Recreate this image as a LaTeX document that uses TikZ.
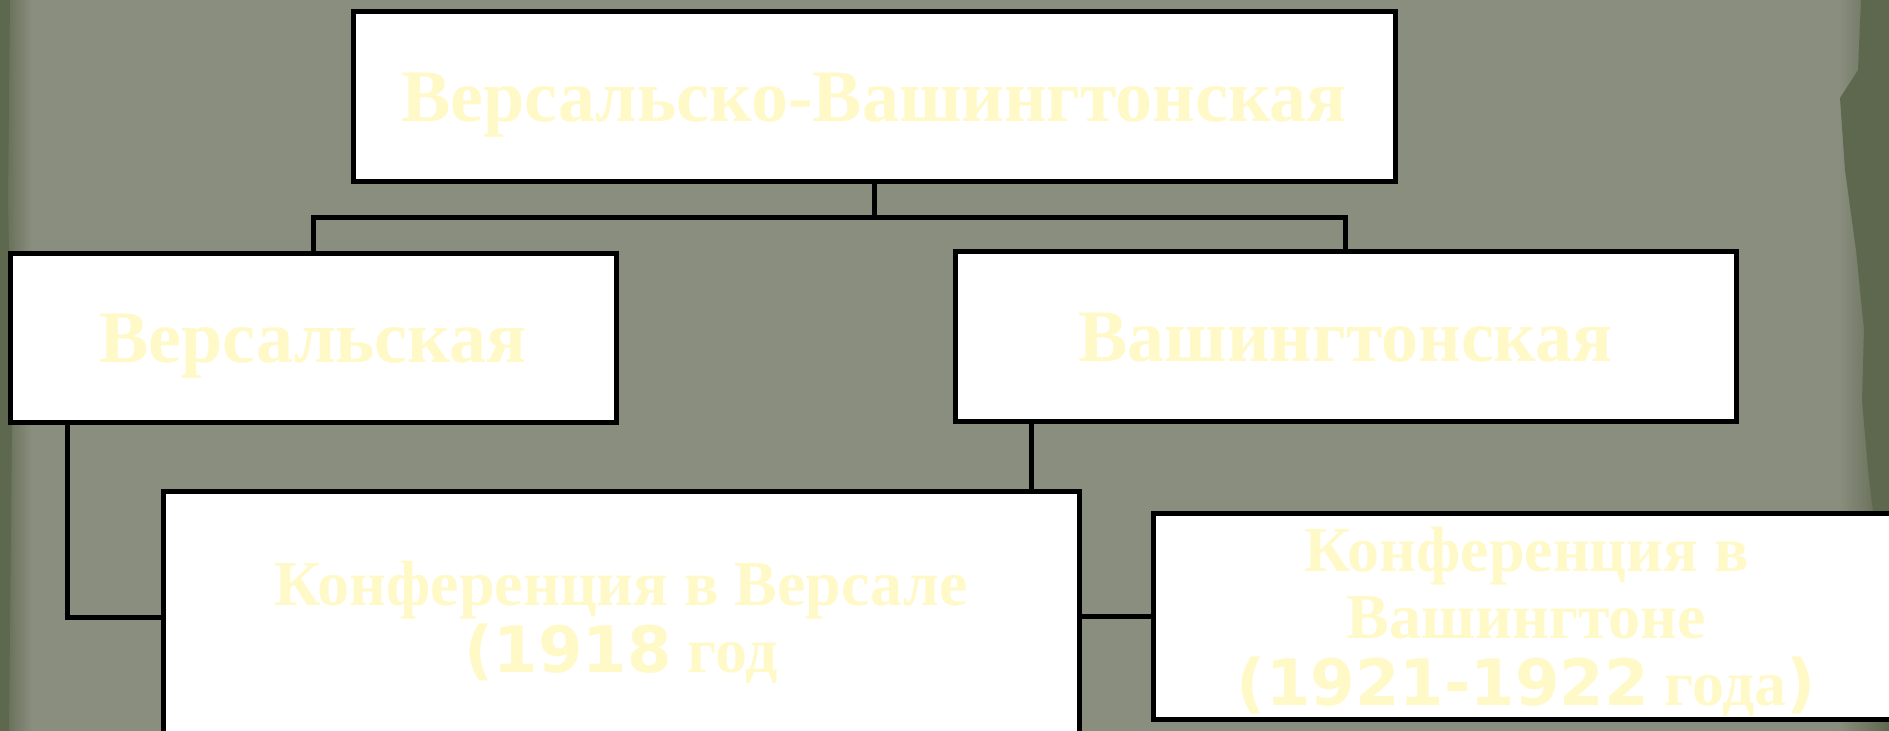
\documentclass[tikz,border=0pt]{standalone}
\usepackage{fontspec}
\setmainfont{Liberation Serif}
\newfontfamily\numfont{DejaVu Sans}
\usepackage{xcolor}
\usetikzlibrary{positioning,calc}
\definecolor{slate}{HTML}{8A8E7F}
\definecolor{moss}{HTML}{5E684E}
\definecolor{paleyellow}{HTML}{FFF9C8}
\pgfdeclarelayer{backdrop}
\pgfdeclarelayer{links}
\pgfsetlayers{backdrop,links,main}

\begin{document}
\begin{tikzpicture}[
  x=0.5pt, y=-0.5pt,
  box/.style={draw=black,line width=2.5pt,fill=white,inner sep=0pt,align=center,
    text depth=0pt,text=paleyellow,font=\bfseries\fontsize{37}{42}\selectfont},
  confbox/.style={box,font=\bfseries\fontsize{32}{33.5}\selectfont},
  link/.style={line width=2.5pt,draw=black}
]
\useasboundingbox (0,0) rectangle (1889,731);
\begin{pgfonlayer}{backdrop}
\fill[slate] (0,0) rectangle (1889,731);
\shade[left color=moss,right color=slate] (0,0) rectangle (32,731);
\fill[moss] (0,0) -- (10,0) -- (8,200) -- (12,420) -- (9,731) -- (0,731) -- cycle;
\shade[left color=slate,right color=moss] (1838,0) rectangle (1889,731);
\fill[moss] (1889,0) -- (1861,0) -- (1858,70) -- (1840,98) -- (1845,170) -- (1856,250)
  -- (1864,330) -- (1862,400) -- (1868,470) -- (1874,520) -- (1889,540) -- cycle;
\end{pgfonlayer}

\node[box,minimum width=521pt,minimum height=85pt] (union) at (874,97) {Версальско-Вашингтонская};
\node[box,minimum width=303pt,minimum height=84.5pt] (versal) at (313,338.5) {Версальская};
\node[box,minimum width=390.5pt,minimum height=85pt] (wash) at (1345.5,337) {Вашингтонская};
\node[confbox,minimum width=458pt,minimum height=125pt] (versconf) at (621,617)
  {Конференция в Версале\\{\numfont(1918} год};
\node[confbox,minimum width=373.5pt,minimum height=102.5pt] (washconf) at (1526.5,616.5)
  {Конференция в\\Вашингтоне\\{\numfont(1921-1922} года{\numfont)}};

\begin{pgfonlayer}{links}
\coordinate (split) at (874,218);
\draw[link] (union.south) -- (split) -| (versal.north);
\draw[link] (split) -| (wash.north);
\draw[link] ($(versal.south west)+(60,0)$) |- (versconf.west);
\draw[link] ($(wash.south west)+(79,0)$) |- (washconf.west);
\end{pgfonlayer}
\end{tikzpicture}
\end{document}
